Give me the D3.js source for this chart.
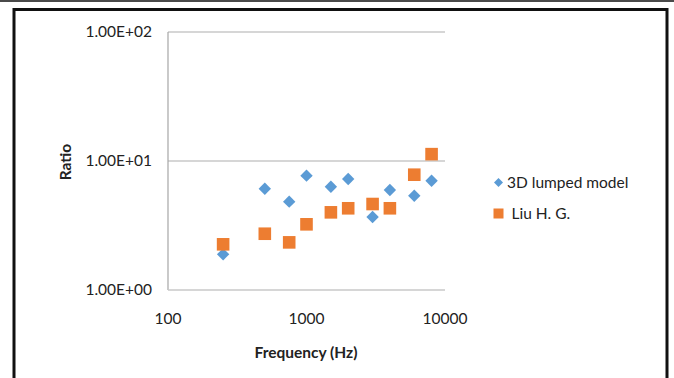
<!DOCTYPE html>
<html>
<head>
<meta charset="utf-8">
<script src="https://cdn.jsdelivr.net/npm/d3@7/dist/d3.min.js"></script>
<style>
  html, body { margin: 0; padding: 0; background: #fff; }
  svg { display: block; font-family: Lato, "Open Sans", sans-serif; }
</style>
</head>
<body>
<svg id="chart" width="674" height="378"></svg>
<script>
// Measurement frequencies (Hz)
const frequencies = [250, 500, 750, 1000, 1500, 2000, 3000, 4000, 6000, 8000];
// Ratio predicted by the 3D lumped model
const lumpedModel = [1.89, 6.1, 4.84, 7.7, 6.32, 7.25, 3.68, 5.96, 5.38, 7.03];
// Ratio reported by Liu H. G.
const liuHG = [2.26, 2.73, 2.34, 3.23, 4.0, 4.3, 4.64, 4.3, 7.83, 11.3];
const xTicks = [100, 1000, 10000];
const yTicks = [1, 10, 100];
const seriesNames = ["3D lumped model", "Liu H. G."];
const seriesColors = ["#5b9bd5", "#ed7d31"];

const svg = d3.select("#chart");
const fs = 15.5;

// page frame
svg.append("rect").attr("x", 0).attr("y", 0).attr("width", 674).attr("height", 2).attr("fill", "#4a4a4a");
svg.append("path")
  .attr("d", "M14,378 V9.5 H667 V378")
  .attr("fill", "none").attr("stroke", "#111").attr("stroke-width", 3);

const x = d3.scaleLog().domain([100, 10000]).range([168, 445]);
const y = d3.scaleLog().domain([1, 100]).range([290, 32]);

// horizontal gridlines
svg.append("g").selectAll("line").data(yTicks.slice(1)).join("line")
  .attr("x1", x(100)).attr("x2", x(10000))
  .attr("y1", d => y(d)).attr("y2", d => y(d))
  .attr("stroke", "#c8c8c8").attr("stroke-width", 1.3);

// axes lines
svg.append("line").attr("x1", x(100)).attr("x2", x(100)).attr("y1", y(100)).attr("y2", y(1))
  .attr("stroke", "#a6a6a6").attr("stroke-width", 1.2);
svg.append("line").attr("x1", x(100)).attr("x2", x(10000)).attr("y1", y(1)).attr("y2", y(1))
  .attr("stroke", "#c8c8c8").attr("stroke-width", 1.3);

// y tick labels
svg.append("g").selectAll("text").data(yTicks).join("text")
  .attr("x", 152).attr("y", d => y(d)).attr("dy", "0.35em")
  .attr("text-anchor", "end").attr("font-size", fs).attr("fill", "#222")
  .text(d => d3.format(".2e")(d).replace("e", "E").replace(/E([+-])(\d)$/, "E$10$2"));

// x tick labels
svg.append("g").selectAll("text").data(xTicks).join("text")
  .attr("x", d => x(d)).attr("y", 319).attr("dy", "0.35em")
  .attr("text-anchor", "middle").attr("font-size", fs).attr("fill", "#222")
  .text(d => d);

// axis titles
svg.append("text").attr("x", 306).attr("y", 353).attr("dy", "0.35em")
  .attr("text-anchor", "middle").attr("font-size", fs).attr("font-weight", "bold").attr("fill", "#222")
  .text("Frequency (Hz)");
svg.append("text").attr("transform", "translate(66,162) rotate(-90)").attr("dy", "0.35em")
  .attr("text-anchor", "middle").attr("font-size", fs).attr("font-weight", "bold").attr("fill", "#222")
  .text("Ratio");

// markers
const diamond = s => `M0,${-s}L${s},0L0,${s}L${-s},0Z`;
svg.append("g").selectAll("path").data(frequencies.map((f, i) => [f, lumpedModel[i]])).join("path")
  .attr("transform", d => `translate(${x(d[0])},${y(d[1])})`)
  .attr("d", diamond(6.2)).attr("fill", seriesColors[0]);
svg.append("g").selectAll("rect").data(frequencies.map((f, i) => [f, liuHG[i]])).join("rect")
  .attr("x", d => x(d[0]) - 6.3).attr("y", d => y(d[1]) - 6.3)
  .attr("width", 12.6).attr("height", 12.6).attr("fill", seriesColors[1]);

// legend
const lg = svg.append("g");
lg.append("path").attr("transform", "translate(498.5,182.5)").attr("d", diamond(4.5)).attr("fill", seriesColors[0]);
lg.append("text").attr("x", 507).attr("y", 183).attr("dy", "0.35em").attr("font-size", fs).attr("fill", "#222").text(seriesNames[0]);
lg.append("rect").attr("x", 493.5).attr("y", 208.5).attr("width", 10).attr("height", 10).attr("fill", seriesColors[1]);
lg.append("text").attr("x", 511.5).attr("y", 213.5).attr("dy", "0.35em").attr("font-size", fs).attr("fill", "#222").text(seriesNames[1]);
</script>
</body>
</html>
